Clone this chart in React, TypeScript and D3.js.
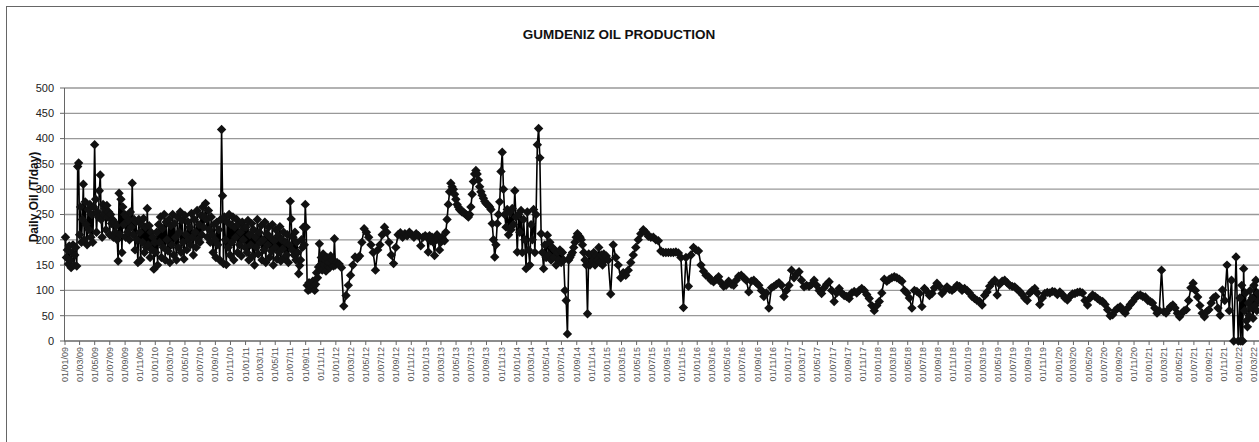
import React from 'react';
import * as d3 from 'd3';

const TITLE = 'GUMDENIZ OIL PRODUCTION';
const Y_TITLE = 'Daily Oil (T/day)';
const Y_TICKS = [0, 50, 100, 150, 200, 250, 300, 350, 400, 450, 500];

const oil2009 = [205,165,180,152,188,160,145,175,190,150,170,185,148,345,352,210,265,195,240,310,200,275,230,190,260,220,270,205,250,195,265,388,280,215,255,245,297,328,240,205,270,250,262,220,268,245,255,210,250,232,240,205,235,215,228,200,158,292,210,280,175,265,230,250,205,245,215,238,200,255,225,312,210,240,180,235,200,155,240,215,160,230,195,242,175,225,185,262,190,228,165,215,180,205,142,195];
const oil2010 = [175,215,150,230,195,245,165,222,185,250,160,235,200,178,240,155,228,190,250,170,232,205,160,245,185,215,255,175,238,195,162,248,210,180,236,200,225,190,252,205,170,240,215,185,258,200,230,195,248,210,265,225,245,272,240,205,258,220,195,245,210,175,230,200,165,235,190,220,160,240,418,287,153,245,200,151,235,185,250,170,230,195,245,160,225,205,240,175,230,190,215,168,235,200,225,185];
const oil2011 = [225,175,238,160,210,190,232,168,220,150,205,185,240,172,215,195,228,160,200,180,235,155,212,190,225,165,205,178,230,150,198,185,220,162,208,175,226,158,200,182,215,165,195,170,210,155,190,276,241,180,205,170,215,160,195,175,133,149,160,200,185,225,190,270,225,110,100,115,102,112,105,118,108,100,112,135,125,146,192,150,165,140,172,150,160,138,165,148,155,145,168,152,160,148,202,150];
const oil2012 = [155,152,145,69,90,110,130,150,166,163,168,195,222,215,205,190,175,140,180,190,210,225,215,195,170,153,185,210,214,205,212,208,215,210,205,212,208,188,205,208];
const oil2013 = [205,176,208,198,205,195,169,200,210,202,180,195,205,200,198,215,240,270,295,312,305,300,290,280,270,265,260,258,255,255,252,250,248,245,250,265,290,315,330,337,330,318,305,295,288,282,276,272,270,268,265,260,232,200,166,190,232,250,275,335,373,300,250,225,260,210,255,220,262,230,297,245];
const oil2014 = [176,250,215,258,175,240,200,143,255,180,150,230,200,260,175,250,388,420,362,212,175,143,190,165,209,170,195,160,185,165,179,150,175,160,180,155,175,160,100,80,14,160,165,170,175,185,195,205,212,208,205,200,190,175,160,150,54,172,150,170,158,175,150,168,160,185,155,170,150,172,160,168];
const oil2015 = [160,93,190,165,150,125,135,130,140,155,170,185,200,212,220,215,207,205,205,200,198,178,175,175,175,175,175,176,174,165,66,165,108,170,185,180];
const oil2016 = [178,150,138,130,127,120,117,122,127,115,108,110,118,112,110,120,128,130,125,120,97,118,120,115,110,100,88,95,65,105,108,112,115,110,88,100];
const oil2017 = [110,140,125,132,137,120,107,110,108,112,120,110,100,94,105,112,117,100,78,95,104,95,90,88,84,95,98,95,100,104,100,92,84,70,60,70];
const oil2018 = [78,95,122,118,122,125,127,125,122,118,100,95,85,65,100,98,94,68,104,98,90,94,105,114,108,94,100,107,102,100,104,110,108,100,104,100];
const oil2019 = [95,88,84,80,78,71,90,97,108,115,120,91,112,118,120,115,110,108,107,102,98,92,85,80,95,100,104,95,72,85,94,96,95,98,97,92];
const oil2020 = [97,92,85,81,88,93,94,96,97,95,80,71,85,91,88,84,80,78,72,62,50,52,60,65,68,60,55,65,72,78,85,90,91,88,87,80];
const oil2021 = [78,75,65,55,60,140,58,55,62,68,71,65,55,48,55,60,62,80,105,114,100,87,70,55,48,58,62,75,85,88,65,51,101,80,150,60,120,0,166,0];
const oil2022 = [85,0,110,0,143,60,95,40,28,75,50,100,65,85,45,110,70,120,60,95,80];

// each yearly array is sampled evenly over the days it covers
const SEGMENTS = [
  { year: 2009, days: 365, values: oil2009 },
  { year: 2010, days: 365, values: oil2010 },
  { year: 2011, days: 365, values: oil2011 },
  { year: 2012, days: 366, values: oil2012 },
  { year: 2013, days: 365, values: oil2013 },
  { year: 2014, days: 365, values: oil2014 },
  { year: 2015, days: 365, values: oil2015 },
  { year: 2016, days: 366, values: oil2016 },
  { year: 2017, days: 365, values: oil2017 },
  { year: 2018, days: 365, values: oil2018 },
  { year: 2019, days: 365, values: oil2019 },
  { year: 2020, days: 366, values: oil2020 },
  { year: 2021, days: 365, values: oil2021 },
  { year: 2022, days: 80, values: oil2022 },
];

const FONT = '"Liberation Sans", Arial, Helvetica, sans-serif';

export default function App() {
  const W = 1259;
  const H = 442;
  const start = new Date(Date.UTC(2009, 0, 1));
  const end = new Date(Date.UTC(2022, 2, 1));
  const x = d3.scaleUtc().domain([start, end]).range([65, 1254]);
  const y = d3.scaleLinear().domain([0, 500]).range([341, 88]);

  const points = SEGMENTS.flatMap((seg) =>
    seg.values.map((v, i) => ({
      date: new Date(Date.UTC(seg.year, 0, 1) + ((i + 0.5) * seg.days / seg.values.length) * 864e5),
      v,
    }))
  );
  const line = d3.line<{ date: Date; v: number }>().x((d) => x(d.date)).y((d) => y(d.v));
  const xTicks = d3.utcMonth.every(2)!.range(start, new Date(Date.UTC(2022, 2, 2)));
  const fmt = d3.utcFormat('%d/%m/%y');
  const r = 4.7;
  const diamond = `M0,${-r}L${r},0L0,${r}L${-r},0Z`;

  return (
    <svg width={W} height={H} style={{ position: 'absolute', left: 0, top: 0, display: 'block', background: '#fff' }} fontFamily={FONT}>
      <rect x={6.5} y={6.5} width={1400} height={600} fill="#fff" stroke="#666" strokeWidth={1} />
      <text x={619} y={34} dy="0.35em" textAnchor="middle" fontSize={13.5} fontWeight="bold" fill="#111">{TITLE}</text>
      {Y_TICKS.map((t) => (
        <g key={t}>
          <line x1={64} x2={W} y1={y(t)} y2={y(t)} stroke={t === 0 ? '#666' : '#999'} strokeWidth={1.3} />
          <line x1={60} x2={64} y1={y(t)} y2={y(t)} stroke="#666" strokeWidth={1} />
          <text x={54} y={y(t)} dy="0.35em" textAnchor="end" fontSize={11} fill="#222">{t}</text>
        </g>
      ))}
      <line x1={64.5} x2={64.5} y1={88} y2={341} stroke="#666" strokeWidth={1} />
      {xTicks.map((t) => (
        <g key={+t}>
          <line x1={x(t)} x2={x(t)} y1={341} y2={345} stroke="#666" strokeWidth={1} />
          <text transform={`translate(${x(t)},347) rotate(-90)`} dy="0.33em" textAnchor="end" fontSize={9} fill="#555">{fmt(t)}</text>
        </g>
      ))}
      <text transform="translate(34,197) rotate(-90)" dy="0.35em" textAnchor="middle" fontSize={12} fontWeight="bold" fill="#111">{Y_TITLE}</text>
      <path d={line(points) || ''} fill="none" stroke="#000" strokeWidth={1.6} />
      {points.map((p, i) => (
        <path key={i} d={diamond} transform={`translate(${x(p.date)},${y(p.v)})`} fill="#111" />
      ))}
    </svg>
  );
}
